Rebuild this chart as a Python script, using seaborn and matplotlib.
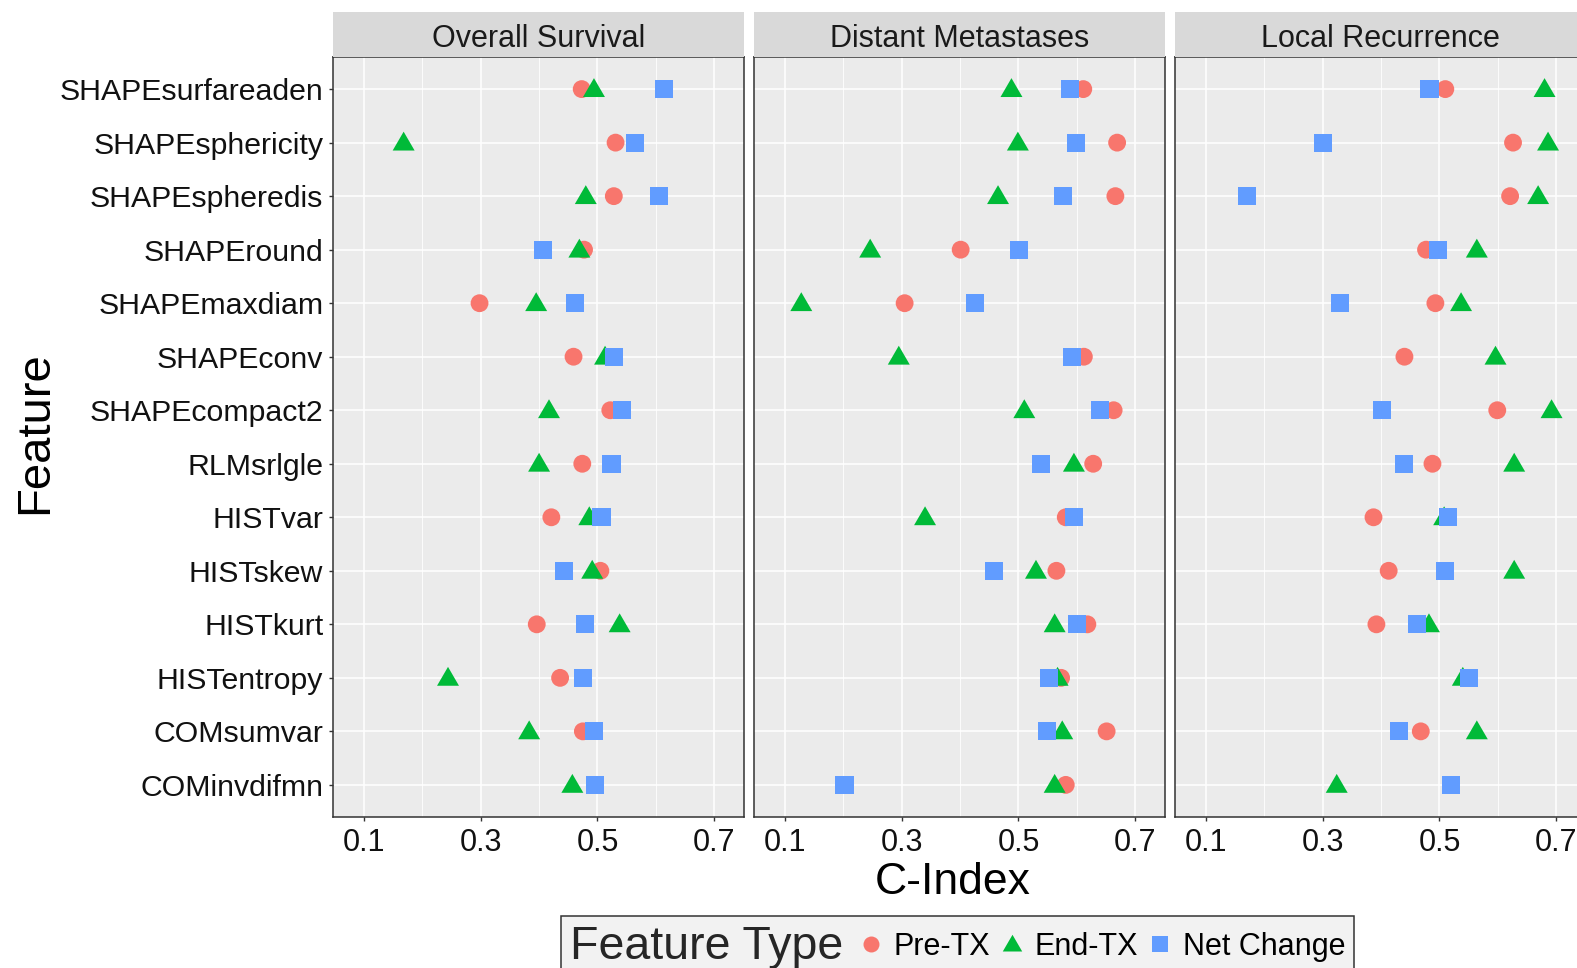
import numpy as np
import pandas as pd
import matplotlib
matplotlib.use("Agg")
import matplotlib.pyplot as plt
import seaborn as sns
from matplotlib.lines import Line2D
from matplotlib.offsetbox import HPacker

# ---- data -------------------------------------------------------------
features = ["SHAPEsurfareaden", "SHAPEsphericity", "SHAPEspheredis", "SHAPEround",
            "SHAPEmaxdiam", "SHAPEconv", "SHAPEcompact2", "RLMsrlgle", "HISTvar",
            "HISTskew", "HISTkurt", "HISTentropy", "COMsumvar", "COMinvdifmn"]
outcomes = ["Overall Survival", "Distant Metastases", "Local Recurrence"]
feature_types = ["Pre-TX", "End-TX", "Net Change"]
x_ticks = [0.1, 0.3, 0.5, 0.7]

nan = np.nan
os_pre = [0.473, 0.531, 0.528, 0.477, 0.298, 0.459, 0.522, 0.474, 0.421, 0.505, 0.396, 0.436, 0.475, nan]
os_end = [0.494, 0.168, 0.480, 0.469, 0.395, 0.513, 0.417, 0.400, 0.486, 0.491, 0.538, 0.244, 0.383, 0.457]
os_net = [0.614, 0.564, 0.606, 0.406, 0.462, 0.529, 0.542, 0.524, 0.507, 0.442, 0.479, 0.475, 0.494, 0.496]

dm_pre = [0.611, 0.669, 0.666, 0.401, 0.305, 0.612, 0.663, 0.628, 0.581, 0.565, 0.618, 0.573, 0.651, 0.581]
dm_end = [0.488, 0.499, 0.465, 0.246, 0.128, 0.295, 0.510, 0.595, 0.340, 0.530, 0.562, 0.567, 0.575, 0.562]
dm_net = [0.588, 0.598, 0.576, 0.501, 0.426, 0.592, 0.639, 0.539, 0.595, 0.458, 0.601, 0.553, 0.549, 0.202]

lr_pre = [0.510, 0.626, 0.621, 0.477, 0.493, 0.440, 0.599, 0.488, 0.387, 0.413, 0.392, nan, 0.468, nan]
lr_end = [0.680, 0.686, 0.669, 0.564, 0.537, 0.596, 0.692, 0.628, 0.508, 0.628, 0.482, 0.540, 0.564, 0.324]
lr_net = [0.483, 0.301, 0.170, 0.498, 0.329, nan, 0.402, 0.440, 0.514, 0.509, 0.461, 0.551, 0.430, 0.520]

series = {
    "Overall Survival": [os_pre, os_end, os_net],
    "Distant Metastases": [dm_pre, dm_end, dm_net],
    "Local Recurrence": [lr_pre, lr_end, lr_net],
}

rows = []
for outcome in outcomes:
    for ftype, vals in zip(feature_types, series[outcome]):
        for pos, (feat, v) in enumerate(zip(features, vals)):
            rows.append({"Outcome": outcome, "Feature Type": ftype,
                         "Feature": feat, "pos": pos, "C-Index": v})
df = pd.DataFrame(rows).dropna(subset=["C-Index"])

# ---- style ------------------------------------------------------------
sns.set_theme(style="darkgrid")
plt.rcParams["font.family"] = ["Liberation Sans", "DejaVu Sans"]

palette = {"Pre-TX": "#F8766D", "End-TX": "#00BA38", "Net Change": "#619CFF"}
triangle = [(-1.0, -0.72), (1.0, -0.72), (0.0, 1.0)]
markers = {"Pre-TX": "o", "End-TX": triangle, "Net Change": "s"}
sizes = {"Pre-TX": 165, "End-TX": 250, "Net Change": 170}

W, H = 1577, 968
fig = plt.figure(figsize=(W / 100, H / 100), dpi=100)
fig.patch.set_facecolor("white")

panel_left = [333, 754, 1175]
panel_w = 411
panel_top, panel_bot = 57, 817
strip_top = 12

for i, outcome in enumerate(outcomes):
    x0 = panel_left[i]
    ax = fig.add_axes([x0 / W, 1 - panel_bot / H, panel_w / W, (panel_bot - panel_top) / H])
    ax.set_facecolor("#EBEBEB")
    sub = df[df["Outcome"] == outcome]
    sns.scatterplot(data=sub, x="C-Index", y="pos", hue="Feature Type", style="Feature Type",
                    size="Feature Type", hue_order=feature_types, style_order=feature_types,
                    size_order=feature_types, palette=palette, markers=markers, sizes=sizes,
                    linewidth=0, legend=False, ax=ax, zorder=3)
    ax.set_xlim(0.047, 0.751)
    ax.set_ylim(len(features) - 1 + 0.6, -0.6)
    ax.set_xticks(x_ticks)
    ax.set_xticklabels([f"{t:.1f}" for t in x_ticks])
    ax.set_xticks([0.2, 0.4, 0.6], minor=True)
    ax.set_yticks(range(len(features)))
    ax.grid(which="major", color="white", linewidth=1.1)
    ax.grid(which="minor", axis="x", color="white", linewidth=0.6)
    ax.set_axisbelow(True)
    ax.tick_params(axis="x", which="major", length=3, width=1.0, color="#333333",
                   labelsize=22, labelcolor="#111111", pad=5, direction="out", bottom=True)
    ax.tick_params(axis="x", which="minor", length=0)
    if i == 0:
        ax.set_yticklabels(features)
        ax.tick_params(axis="y", length=3, width=1.0, color="#333333", labelsize=21.8,
                       labelcolor="#111111", pad=4, direction="out", left=True)
    else:
        ax.tick_params(axis="y", length=0, labelleft=False)
    for sp in ax.spines.values():
        sp.set_visible(True)
        sp.set_color("#333333")
        sp.set_linewidth(1.1)
    ax.set_xlabel("")
    ax.set_ylabel("")

    # facet strip
    sax = fig.add_axes([x0 / W, 1 - panel_top / H, panel_w / W, (panel_top - strip_top) / H])
    sax.set_facecolor("#D9D9D9")
    sax.grid(False)
    sax.set_xticks([])
    sax.set_yticks([])
    for sp in sax.spines.values():
        sp.set_visible(False)
    sax.text(0.5, 0.40, outcome, ha="center", va="center", fontsize=22,
             color="#1A1A1A", transform=sax.transAxes)

fig.text(35 / W, 1 - 433 / H, "Feature", rotation=90, ha="center", va="center",
         fontsize=34, color="black")
fig.text(953 / W, 1 - 882 / H, "C-Index", ha="center", va="center",
         fontsize=32, color="black")

# legend with the title placed to the left of the keys
handles = [
    Line2D([], [], linestyle="none", marker="o", markersize=11.5,
           markerfacecolor=palette["Pre-TX"], markeredgewidth=0),
    Line2D([], [], linestyle="none", marker=triangle, markersize=14,
           markerfacecolor=palette["End-TX"], markeredgewidth=0),
    Line2D([], [], linestyle="none", marker="s", markersize=11.5,
           markerfacecolor=palette["Net Change"], markeredgewidth=0),
]
leg = fig.legend(handles, feature_types, title="Feature Type", ncol=3, loc="upper left",
                 bbox_to_anchor=(561 / W, 1 - 916 / H), fontsize=22, title_fontsize=33.5,
                 handlelength=0.8, handletextpad=0.35, columnspacing=0.3, borderpad=0.3,
                 borderaxespad=0, fancybox=False, frameon=True, framealpha=1,
                 edgecolor="#333333", facecolor="#F2F2F2")
leg.get_frame().set_linewidth(1.1)
for t in leg.get_texts():
    t.set_color("black")
box = HPacker(pad=leg.borderpad * leg._fontsize, sep=11, align="center",
              children=[leg._legend_title_box, leg._legend_handle_box])
box.set_figure(fig)
box.axes = leg.axes
box.set_offset(leg._findoffset)
leg._legend_box = box

fig.savefig("out.png", dpi=100, facecolor="white")
